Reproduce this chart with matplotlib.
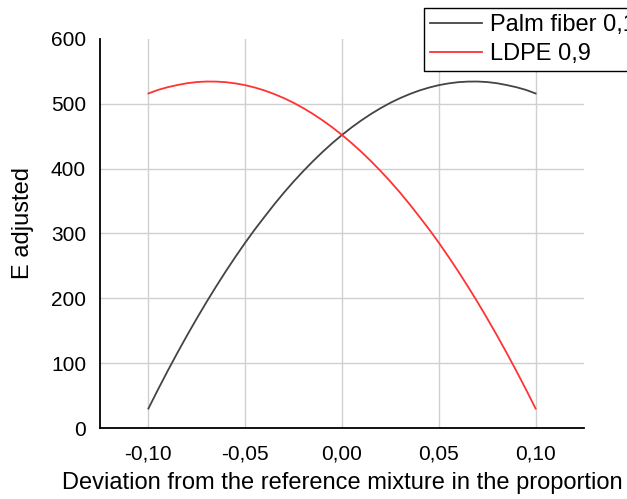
import numpy as np
import matplotlib.pyplot as plt

# deviation from the reference mixture
deviation = [-0.100, -0.095, -0.090, -0.085, -0.080, -0.075, -0.070, -0.065, -0.060, -0.055,
             -0.050, -0.045, -0.040, -0.035, -0.030, -0.025, -0.020, -0.015, -0.010, -0.005,
             0.000, 0.005, 0.010, 0.015, 0.020, 0.025, 0.030, 0.035, 0.040, 0.045,
             0.050, 0.055, 0.060, 0.065, 0.070, 0.075, 0.080, 0.085, 0.090, 0.095, 0.100]

# E adjusted
palm_fiber = [30.0, 59.6, 88.3, 116.1, 143.0, 169.0, 194.2, 218.4, 241.8, 264.2,
              285.8, 306.4, 325.8, 344.9, 363.0, 380.1, 396.2, 411.5, 425.9, 439.4,
              452.0, 463.7, 474.5, 484.4, 493.4, 501.6, 508.8, 515.1, 520.6, 525.1,
              528.8, 531.5, 533.4, 534.3, 534.4, 533.6, 531.8, 529.0, 525.7, 521.5, 516.0]
ldpe = palm_fiber[::-1]  # the LDPE curve is the mirror image in the chart

x_ticks = [-0.10, -0.05, 0.00, 0.05, 0.10]
x_tick_labels = ["-0,10", "-0,05", "0,00", "0,05", "0,10"]
y_ticks = [0, 100, 200, 300, 400, 500, 600]

plt.rcParams["font.family"] = ["Liberation Sans", "DejaVu Sans"]

fig = plt.figure(figsize=(6.27, 4.99), dpi=100)
ax = fig.add_axes([100 / 627, 1 - 428 / 499, 484 / 627, 389 / 499])

ax.plot(deviation, palm_fiber, color="#444444", lw=1.3, label="Palm fiber 0,1")
ax.plot(deviation, ldpe, color="#ff3333", lw=1.3, label="LDPE 0,9")

ax.set_xlim(-0.125, 0.125)
ax.set_ylim(0, 600)
ax.set_xticks(x_ticks)
ax.set_xticklabels(x_tick_labels)
ax.set_yticks(y_ticks)
ax.tick_params(axis="both", length=0, labelsize=15, colors="black")
ax.tick_params(axis="x", pad=12)
ax.tick_params(axis="y", pad=10)

ax.grid(True, color="#d0d0d0", lw=1.0)
ax.set_axisbelow(True)
ax.yaxis.get_gridlines()[-1].set_visible(False)

for side in ["top", "right"]:
    ax.spines[side].set_visible(False)
for side in ["left", "bottom"]:
    ax.spines[side].set_linewidth(1.3)
    ax.spines[side].set_color("black")

ax.set_xlabel("Deviation from the reference mixture in the proportion", fontsize=17)
ax.xaxis.set_label_coords(0.5, -0.112)
ax.set_ylabel("E adjusted", fontsize=17)
ax.yaxis.set_label_coords(-0.136, 0.528)

leg = fig.legend(loc="upper left", bbox_to_anchor=(424 / 627, 1 - 8 / 499),
                 fontsize=17, frameon=True, fancybox=False, framealpha=1,
                 edgecolor="black", borderpad=0.25, handlelength=2.2,
                 handletextpad=0.35, labelspacing=0.3, borderaxespad=0)
leg.get_frame().set_linewidth(1.0)

fig.savefig("out.png", dpi=100)
